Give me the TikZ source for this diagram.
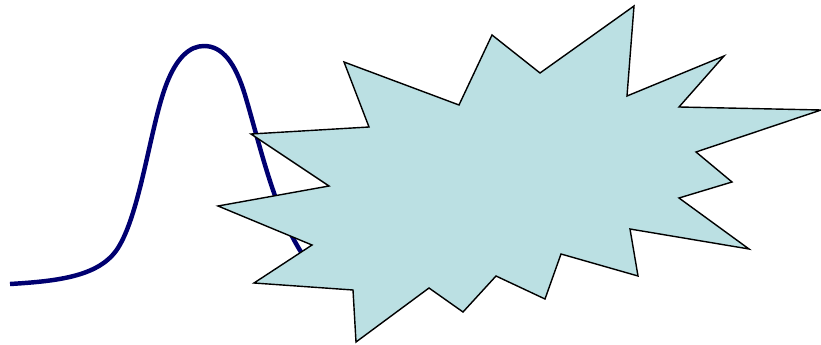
\documentclass[tikz,border=0pt]{standalone}
\usepackage{tikz}

\definecolor{bellblue}{RGB}{0,0,112}
\definecolor{burstfill}{RGB}{187,224,227}

\begin{document}
\begin{tikzpicture}[
    x=0.03cm,
    y=-0.03cm,
    bell/.style={
        draw=bellblue,
        line width=3.8pt,
        line join=round
    },
    burst/.style={
        draw=black,
        fill=burstfill,
        line width=1.2pt,
        line join=miter
    }
]

\useasboundingbox (0,0) rectangle (821,345);

%%%%%%%%%%%%%%%%%%%%%%%%%%%%%%%%%%%%%%%%%%%%%%%%%%%%
%% Bell curve
%%%%%%%%%%%%%%%%%%%%%%%%%%%%%%%%%%%%%%%%%%%%%%%%%%%%

\coordinate (bellstart) at (10,284);
\coordinate (bellfoot)  at (118,248);
\coordinate (bellrise)  at (165,88);
\coordinate (bellpeak)  at (204,46);
\coordinate (bellfall)  at (245,95);
\coordinate (bellend)   at (305,258);

\draw[bell] (bellstart)
    .. controls (60,281) and (100,276) .. (bellfoot)
    .. controls (140,213) and (150,130) .. (bellrise)
    .. controls (176,57) and (190,46) .. (bellpeak)
    .. controls (222,46) and (235,62) .. (bellfall)
    .. controls (260,145) and (275,215) .. (bellend);

%%%%%%%%%%%%%%%%%%%%%%%%%%%%%%%%%%%%%%%%%%%%%%%%%%%%
%% Burst
%%%%%%%%%%%%%%%%%%%%%%%%%%%%%%%%%%%%%%%%%%%%%%%%%%%%

\draw[burst]
    (344,62) -- (459,105) -- (492,35) -- (540,73) -- (634,6)
    -- (627,96) -- (724,56) -- (679,107) -- (821,110) -- (696,152)
    -- (732,182) -- (679,198) -- (749,249) -- (630,229) -- (638,276)
    -- (561,254) -- (545,299) -- (496,276) -- (463,312) -- (429,288)
    -- (356,342) -- (353,290) -- (254,283) -- (312,245) -- (218,206)
    -- (329,186) -- (251,134) -- (369,127) -- cycle;

\end{tikzpicture}
\end{document}
